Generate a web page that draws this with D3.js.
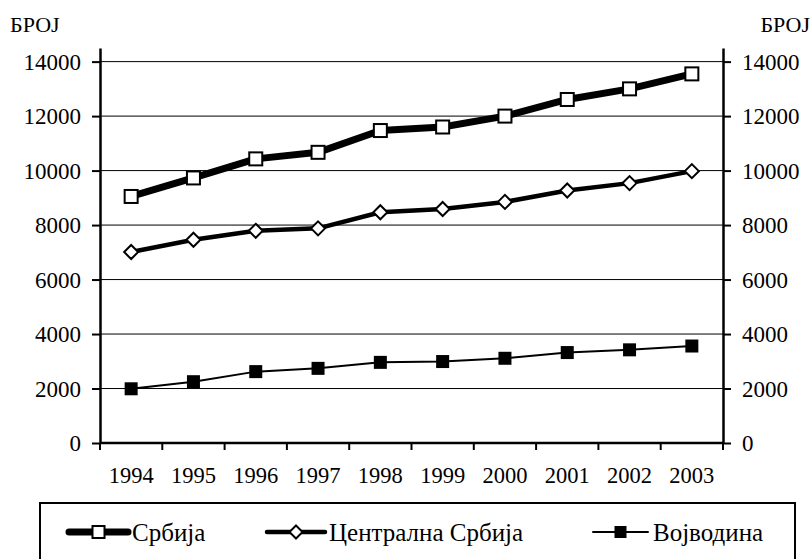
<!DOCTYPE html>
<html>
<head>
<meta charset="utf-8">
<script src="https://cdn.jsdelivr.net/npm/d3@7"></script>
<style>
  body { margin: 0; background: #fff; }
</style>
</head>
<body>
<svg width="811" height="559" font-family="Liberation Serif, Times New Roman, serif"></svg>
<script>
// chart data
var years = ["1994", "1995", "1996", "1997", "1998", "1999", "2000", "2001", "2002", "2003"];
var srbija = [9050, 9730, 10430, 10670, 11470, 11600, 12000, 12610, 13000, 13550];
var centralna = [7010, 7460, 7790, 7880, 8470, 8590, 8850, 9270, 9540, 9980];
var vojvodina = [1990, 2250, 2620, 2740, 2960, 2990, 3110, 3320, 3420, 3560];
var yTicks = [0, 2000, 4000, 6000, 8000, 10000, 12000, 14000];
var seriesNames = ["Србија", "Централна Србија", "Војводина"];

var serif = "Liberation Serif, Times New Roman, serif";
var svg = d3.select("svg");

var plotLeft = 100, plotRight = 723, plotTop = 48, plotBottom = 443;

var x = d3.scaleBand().domain(years).range([plotLeft, plotRight]).padding(0);
var y = d3.scaleLinear().domain([0, 14500]).range([plotBottom, plotTop]);

function cx(i) {
  return x(years[i]) + x.bandwidth() / 2;
}

// horizontal gridlines
svg.append("g")
  .selectAll("line")
  .data(yTicks.slice(1))
  .enter()
  .append("line")
  .attr("x1", plotLeft)
  .attr("x2", plotRight)
  .attr("y1", function (d) { return y(d); })
  .attr("y2", function (d) { return y(d); })
  .attr("stroke", "#000")
  .attr("stroke-width", 1);

// left and right value axes
function styleAxis(g) {
  g.attr("font-family", serif).attr("font-size", 23);
  g.select(".domain").attr("stroke", "#000").attr("stroke-width", 2.5);
  g.selectAll(".tick line").attr("stroke", "#000").attr("stroke-width", 2);
  g.selectAll(".tick text").attr("fill", "#000").attr("dy", "0.34em");
}

var yl = svg.append("g")
  .attr("transform", "translate(" + plotLeft + ",0)")
  .call(d3.axisLeft(y).tickValues(yTicks).tickFormat(d3.format("d"))
    .tickSize(8).tickSizeOuter(0).tickPadding(11));
styleAxis(yl);

var yr = svg.append("g")
  .attr("transform", "translate(" + plotRight + ",0)")
  .call(d3.axisRight(y).tickValues(yTicks).tickFormat(d3.format("d"))
    .tickSize(8).tickSizeOuter(0).tickPadding(11));
styleAxis(yr);

// category axis: ticks between categories
svg.append("line")
  .attr("x1", plotLeft).attr("x2", plotRight)
  .attr("y1", plotBottom).attr("y2", plotBottom)
  .attr("stroke", "#000").attr("stroke-width", 2.5);

svg.append("g")
  .selectAll("line")
  .data(d3.range(years.length + 1))
  .enter()
  .append("line")
  .attr("x1", function (i) { return plotLeft + i * x.bandwidth(); })
  .attr("x2", function (i) { return plotLeft + i * x.bandwidth(); })
  .attr("y1", plotBottom)
  .attr("y2", plotBottom + 7)
  .attr("stroke", "#000")
  .attr("stroke-width", 2);

svg.append("g")
  .selectAll("text")
  .data(years)
  .enter()
  .append("text")
  .attr("x", function (d) { return x(d) + x.bandwidth() / 2; })
  .attr("y", 483)
  .attr("text-anchor", "middle")
  .attr("font-family", serif)
  .attr("font-size", 22.5)
  .text(function (d) { return d; });

// axis titles
svg.append("text").attr("x", 10).attr("y", 32)
  .attr("font-family", serif).attr("font-size", 22).text("БРОЈ");
svg.append("text").attr("x", 810).attr("y", 32)
  .attr("font-family", serif).attr("font-size", 22)
  .attr("text-anchor", "end").text("БРОЈ");

var line = d3.line()
  .x(function (d, i) { return cx(i); })
  .y(function (d) { return y(d); });

// series styles
var styles = [
  { data: srbija, width: 7, marker: "square", size: 13, fill: "#fff" },
  { data: centralna, width: 4.5, marker: "diamond", size: 14, fill: "#fff" },
  { data: vojvodina, width: 2, marker: "square", size: 11, fill: "#000" }
];

function drawMarker(g, s, px, py) {
  if (s.marker === "square") {
    g.append("rect")
      .attr("x", px - s.size / 2).attr("y", py - s.size / 2)
      .attr("width", s.size).attr("height", s.size)
      .attr("fill", s.fill).attr("stroke", "#000").attr("stroke-width", 2);
  } else {
    var h = s.size / 2;
    g.append("path")
      .attr("d", "M" + px + "," + (py - h) + "L" + (px + h) + "," + py + "L" + px + "," + (py + h) + "L" + (px - h) + "," + py + "Z")
      .attr("fill", s.fill).attr("stroke", "#000").attr("stroke-width", 2);
  }
}

styles.forEach(function (s) {
  svg.append("path")
    .datum(s.data)
    .attr("d", line)
    .attr("fill", "none")
    .attr("stroke", "#000")
    .attr("stroke-width", s.width)
    .attr("stroke-linejoin", "round");
  var g = svg.append("g");
  s.data.forEach(function (d, i) {
    drawMarker(g, s, cx(i), y(d));
  });
});

// legend
svg.append("rect")
  .attr("x", 40).attr("y", 503)
  .attr("width", 755).attr("height", 70)
  .attr("fill", "none").attr("stroke", "#000").attr("stroke-width", 2);

var legendPos = [
  { x1: 69, x2: 128, tx: 132 },
  { x1: 267, x2: 325, tx: 329 },
  { x1: 593, x2: 648, tx: 653 }
];
var ly = 532;

styles.forEach(function (s, i) {
  var p = legendPos[i];
  svg.append("line")
    .attr("x1", p.x1).attr("x2", p.x2)
    .attr("y1", ly).attr("y2", ly)
    .attr("stroke", "#000").attr("stroke-width", s.width)
    .attr("stroke-linecap", "round");
  drawMarker(svg, { marker: s.marker, size: s.size - 1, fill: s.fill }, (p.x1 + p.x2) / 2, ly);
  svg.append("text")
    .attr("x", p.tx).attr("y", ly + 9)
    .attr("font-family", serif)
    .attr("font-size", 25)
    .text(seriesNames[i]);
});
</script>
</body>
</html>
